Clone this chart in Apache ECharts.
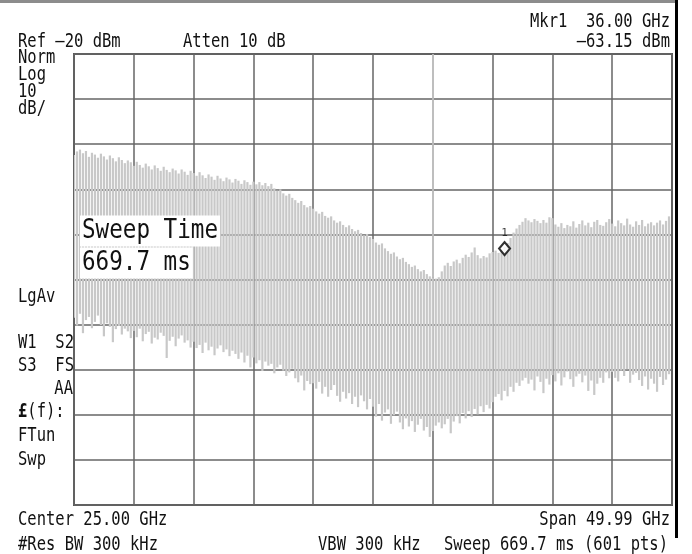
<!DOCTYPE html>
<html>
<head>
<meta charset="utf-8">
<title>Sweep 669.7 ms</title>
<script src="https://cdn.jsdelivr.net/npm/echarts@6/dist/echarts.min.js"></script>
<style>
  html, body { margin: 0; padding: 0; background: #fff; }
  #chart { width: 692px; height: 554px; }
</style>
</head>
<body>
<div id="chart"></div>
<script>
// analyzer settings
const refLevel = -20;      // dBm, top line
const dbPerDiv = 10;
const startGHz = 0;
const stopGHz = 50;
const divGHz = 5;

// trace bins, 0.25 GHz apart (20 per division)
const binStartGHz = 0;
const binStepGHz = 0.25;

// upper end of each bin (dBm)
const traceTop = [
  -42.4, -41.6, -41.2, -42.0, -41.5, -42.8, -41.9, -42.3, -43.0, -42.1, -42.7, -43.4, -42.5, -43.1, -43.8, -42.9, -43.5, -44.2, -43.6, -44.0,
  -44.8, -43.9, -44.6, -45.2, -44.3, -44.9, -45.6, -44.7, -45.3, -45.9, -45.0, -45.7, -46.2, -45.4, -45.8, -46.5, -45.6, -46.1, -46.8, -45.9,
  -46.4, -47.0, -46.2, -46.9, -47.5, -46.7, -47.2, -47.9, -47.0, -47.6, -48.2, -47.4, -47.8, -48.5, -47.7, -48.1, -48.8, -48.0, -48.4, -49.0,
  -48.3, -48.9, -48.4, -49.1, -48.6, -49.3, -48.8, -49.8, -50.3, -50.0, -50.9, -51.4, -51.0, -51.9, -52.4, -53.0, -52.6, -53.5, -54.0, -53.7,
  -54.3, -54.9, -55.4, -55.0, -55.9, -56.3, -56.0, -56.9, -57.4, -57.1, -57.9, -58.4, -58.0, -58.8, -59.3, -59.0, -59.7, -60.2, -59.9, -60.6,
  -61.0, -61.8, -62.3, -62.0, -63.1, -63.7, -64.3, -64.0, -64.9, -65.5, -65.2, -66.1, -66.6, -67.2, -66.9, -67.7, -68.2, -67.9, -68.8, -69.3,
  -69.6, -69.8, -69.5, -68.2, -66.9, -66.3, -67.0, -66.0, -65.6, -66.4, -65.2, -64.5, -65.0, -64.0, -62.9, -64.6, -65.3, -64.8, -65.1, -64.2,
  -63.9, -63.6, -64.1, -63.3, -62.8, -61.9, -60.8, -59.6, -58.7, -57.9, -57.2, -56.4, -56.9, -57.3, -56.6, -57.0, -57.5, -56.8, -57.4, -56.2,
  -56.4, -57.8, -58.3, -57.5, -58.6, -57.9, -58.2, -57.1, -58.5, -57.7, -56.9, -58.0, -57.4, -58.4, -57.2, -56.8, -57.9, -58.1, -57.3, -56.6,
  -57.6, -58.2, -56.9, -57.5, -58.0, -56.5, -57.8, -58.3, -57.1, -57.9, -56.8, -58.2, -57.6, -57.3, -58.0, -57.4, -56.9, -57.8, -57.0, -56.0
];

// lower end of each bin (dBm)
const traceBottom = [
  -78.5, -80.2, -77.6, -81.9, -79.0, -78.3, -80.8, -79.4, -78.0, -80.1, -82.6, -79.7, -80.5, -83.9, -81.0, -80.3, -82.2, -80.9, -81.5, -83.0,
  -81.4, -82.8, -80.9, -83.7, -82.1, -81.6, -84.2, -82.9, -83.3, -81.8, -82.5, -87.4, -83.6, -82.7, -84.8, -83.1, -82.4, -84.0, -83.5, -85.1,
  -83.8, -85.2, -84.5, -86.3, -84.0, -85.7, -84.9, -86.8, -85.3, -84.6, -86.1, -85.5, -87.0, -85.8, -86.5, -87.6, -86.2, -88.4, -86.9, -89.5,
  -87.3, -88.6, -87.9, -90.3, -88.2, -89.1, -88.7, -90.8, -89.5, -88.9, -90.2, -91.4, -90.6, -89.8, -91.9, -92.8, -91.3, -94.6, -92.5, -93.2,
  -93.0, -94.2, -92.7, -95.3, -93.8, -96.0, -94.5, -93.4, -95.8, -97.1, -94.9, -96.4, -95.2, -97.6, -96.0, -98.3, -95.7, -97.0, -98.8, -96.5,
  -98.2, -100.4, -97.6, -101.3, -99.5, -98.8, -102.0, -100.1, -99.3, -101.7, -103.2, -100.8, -102.6, -101.4, -103.8, -102.2, -100.9, -103.5, -102.7, -104.9,
  -103.6, -102.4, -101.7, -103.0, -102.1, -100.9, -104.1, -101.5, -100.3, -101.9, -99.6, -100.8, -99.2, -100.5, -98.7, -99.9, -98.1, -99.4, -97.8, -98.6,
  -97.2, -96.0, -95.4, -96.8, -94.7, -95.9, -93.8, -94.9, -92.9, -93.6, -92.4, -91.8, -93.1, -92.2, -94.6, -91.5, -92.7, -95.2, -92.0, -93.3,
  -91.2, -92.6, -90.8, -93.5, -91.7, -90.4, -92.1, -93.8, -91.5, -90.9, -92.8, -91.3, -94.7, -92.4, -95.6, -93.1, -91.8, -92.9, -90.6, -91.9,
  -90.5, -91.8, -92.6, -90.2, -91.4, -89.9, -92.9, -91.1, -90.7, -92.3, -93.6, -91.5, -94.4, -92.0, -93.1, -94.9, -91.6, -93.4, -92.2, -91.0
];

// marker
const markerNames = ['1'];
const markerFreq = [36.00];
const markerLevel = [-63.15];

// the 30 GHz graticule line shows up pale above the trace
const paleLineGHz = 30;

const MONO = '"DejaVu Sans Mono", monospace';

let chart = echarts.init(document.getElementById('chart'), null, {renderer: 'canvas'});

// [freq, top, bottom] rows for the custom series
let traceData = [];
for (let i = 0; i < traceTop.length; i++) {
  traceData.push([binStartGHz + i * binStepGHz, traceTop[i], traceBottom[i]]);
}
let paleIdx = Math.round((paleLineGHz - binStartGHz) / binStepGHz);

let markerData = markerFreq.map(function (f, i) {
  return {name: markerNames[i], value: [f, markerLevel[i]]};
});

// each bin is a thin grey stroke from its max down to its min
function renderBin(params, api) {
  let hi = api.coord([api.value(0), api.value(1)]);
  let lo = api.coord([api.value(0), api.value(2)]);
  return {
    type: 'rect',
    shape: {x: hi[0] - 1.1, y: hi[1], width: 2.2, height: lo[1] - hi[1]},
    style: {fill: '#c8c8c8'}
  };
}

// screen annotation text
function txt(s, x, y, align, size, extra) {
  let el = {
    type: 'text',
    x: x,
    y: y,
    scaleY: 1.2,
    z: 100,
    style: {
      text: s,
      x: 0,
      y: 0,
      align: align || 'left',
      verticalAlign: 'middle',
      font: (size || 15.5) + 'px ' + MONO,
      fill: '#111'
    }
  };
  if (extra) Object.assign(el.style, extra);
  return el;
}

let gridLine = {show: true, lineStyle: {color: '#666', width: 1.5}};

let option = {
  animation: false,
  backgroundColor: '#fff',
  grid: {
    left: 74, top: 54, width: 598, height: 451,
    show: true, borderColor: '#555', borderWidth: 2
  },
  xAxis: {
    type: 'value', min: startGHz, max: stopGHz, interval: divGHz,
    axisLine: {show: false}, axisTick: {show: false}, axisLabel: {show: false},
    splitLine: gridLine
  },
  yAxis: {
    type: 'value', min: refLevel - 10 * dbPerDiv, max: refLevel, interval: dbPerDiv,
    axisLine: {show: false}, axisTick: {show: false}, axisLabel: {show: false},
    splitLine: gridLine
  },
  series: [
    {
      type: 'custom',
      renderItem: renderBin,
      data: traceData,
      encode: {x: 0, y: [1, 2]},
      clip: true,
      silent: true,
      z: 2,
      markLine: {
        silent: true,
        symbol: 'none',
        label: {show: false},
        lineStyle: {color: '#cfcfcf', width: 1.5, type: 'solid'},
        data: [[
          {coord: [paleLineGHz, refLevel]},
          {coord: [paleLineGHz, traceTop[paleIdx]]}
        ]]
      }
    },
    {
      type: 'scatter',
      data: markerData,
      symbol: 'diamond',
      symbolSize: [11, 13],
      itemStyle: {color: '#fff', borderColor: '#000', borderWidth: 2},
      label: {
        show: true, position: 'top', distance: 2,
        formatter: '{b}', fontSize: 11, fontFamily: MONO, color: '#111'
      },
      z: 5
    }
  ],
  graphic: [
    // frame edges of the screenshot
    {type: 'rect', z: 100, shape: {x: 0, y: 0, width: 678, height: 3}, style: {fill: '#8c8c8c'}},
    {type: 'rect', z: 100, shape: {x: 675, y: 0, width: 3, height: 538}, style: {fill: '#000'}},

    txt('Mkr1  36.00 GHz', 670, 22, 'right'),
    txt('Ref –20 dBm', 18, 42),
    txt('Atten 10 dB', 183, 42),
    txt('–63.15 dBm', 670, 42, 'right'),

    txt('Norm', 18, 58),
    txt('Log', 18, 75),
    txt('10', 18, 92),
    txt('dB/', 18, 109),
    txt('LgAv', 18, 297),
    txt('W1  S2', 18, 343),
    txt('S3  FS', 18, 366),
    txt('AA', 73, 389, 'right'),
    txt('{b|£}(f):', 18, 412, 'left', 15.5, {rich: {b: {fontWeight: 'bold', fontFamily: MONO, fontSize: 15.5}}}),
    txt('FTun', 18, 436),
    txt('Swp', 18, 460),

    txt('Sweep Time', 80, 231, 'left', 22.6, {backgroundColor: '#fff', padding: [2, 2, 1, 2]}),
    txt('669.7 ms', 80, 263, 'left', 22.6, {backgroundColor: '#fff', padding: [2, 2, 1, 2]}),

    txt('Center 25.00 GHz', 18, 520),
    txt('Span 49.99 GHz', 670, 520, 'right'),
    txt('#Res BW 300 kHz', 18, 545),
    txt('VBW 300 kHz', 318, 545),
    txt('Sweep 669.7 ms (601 pts)', 668, 545, 'right')
  ]
};

chart.setOption(option);
</script>
</body>
</html>
